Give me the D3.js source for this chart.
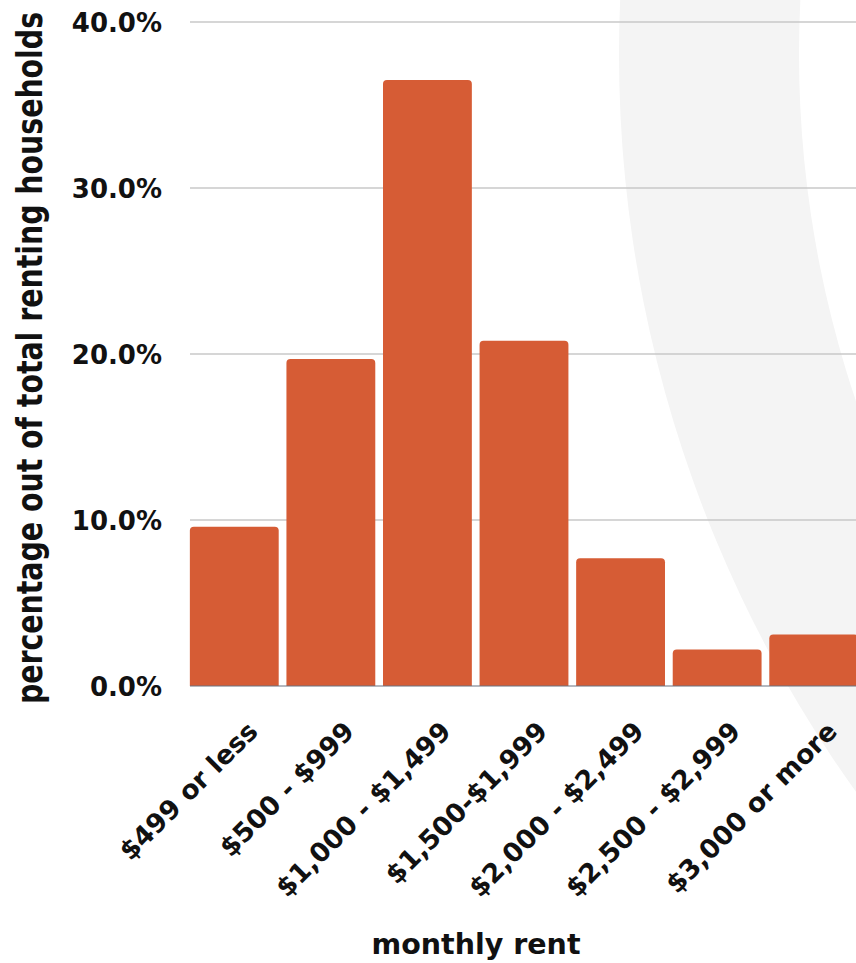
<!DOCTYPE html>
<html>
<head>
<meta charset="utf-8">
<script src="https://cdn.jsdelivr.net/npm/d3@7/dist/d3.min.js"></script>
<style>
  html, body { margin: 0; padding: 0; background: #fff; }
  svg { display: block; }
  text { font-family: "DejaVu Sans", "Open Sans", sans-serif; font-weight: 700; fill: #111; }
</style>
</head>
<body>
<svg id="chart" width="856" height="963"></svg>
<script>
// Share of renting households by monthly rent bracket
const categories = ["$499 or less", "$500 - $999", "$1,000 - $1,499", "$1,500-$1,999",
                    "$2,000 - $2,499", "$2,500 - $2,999", "$3,000 or more"];
const shares = [9.6, 19.7, 36.5, 20.8, 7.7, 2.2, 3.1];
const yTicks = [0, 10, 20, 30, 40];
const yTitle = "percentage out of total renting households";
const xTitle = "monthly rent";

const W = 856, H = 963;
const svg = d3.select("#chart");

// decorative pale arc sweeping through the right side of the background
const deco = d3.arc()
  .innerRadius(1087).outerRadius(1267)
  .startAngle(-Math.PI).endAngle(0);
svg.append("path")
  .attr("transform", "translate(1886,54)")
  .attr("d", deco())
  .attr("fill", "#f4f4f4");

const x = d3.scaleBand()
  .domain(categories)
  .range([186, 862])
  .paddingInner(0.08)
  .paddingOuter(0.04);

const y = d3.scaleLinear().domain([0, 40]).range([686, 22]);

// horizontal gridlines
svg.append("g")
  .selectAll("line")
  .data(yTicks.filter(d => d > 0))
  .join("line")
  .attr("x1", 190).attr("x2", W)
  .attr("y1", d => y(d)).attr("y2", d => y(d))
  .attr("stroke", "#c8c8c8").attr("stroke-width", 1.5);

// y tick labels
const yAxis = d3.axisLeft(y).tickValues(yTicks).tickSize(0).tickPadding(0)
  .tickFormat(d => d.toFixed(1) + "%");
const yg = svg.append("g").attr("transform", "translate(162,0)").call(yAxis);
yg.select(".domain").remove();
yg.selectAll("text")
  .attr("font-size", 26)
  .attr("font-family", "DejaVu Sans")
  .attr("font-weight", 700)
  .attr("fill", "#111")
  .attr("dy", "0.38em");

// bars with rounded tops
const r = 4;
function barPath(d) {
  const x0 = x(d.cat), x1 = x0 + x.bandwidth();
  const y0 = y(0), y1 = y(d.val);
  return `M${x0},${y0}V${y1 + r}Q${x0},${y1} ${x0 + r},${y1}H${x1 - r}Q${x1},${y1} ${x1},${y1 + r}V${y0}Z`;
}
const rows = categories.map((c, i) => ({ cat: c, val: shares[i] }));
svg.append("g")
  .selectAll("path")
  .data(rows)
  .join("path")
  .attr("d", barPath)
  .attr("fill", "#d65c35");

// baseline
svg.append("line")
  .attr("x1", 190).attr("x2", W)
  .attr("y1", y(0)).attr("y2", y(0))
  .attr("stroke", "#6b7280").attr("stroke-width", 1.2);

// x labels, rotated
const xAxis = d3.axisBottom(x).tickSize(0).tickPadding(0);
const xg = svg.append("g").attr("transform", `translate(0,${y(0)})`).call(xAxis);
xg.select(".domain").remove();
xg.selectAll("text")
  .attr("font-size", 26.5)
  .attr("font-family", "DejaVu Sans")
  .attr("font-weight", 700)
  .attr("fill", "#111")
  .attr("text-anchor", "end")
  .attr("dy", null)
  .attr("y", 0)
  .attr("transform", "translate(25,47) rotate(-45)");

// axis titles
svg.append("text")
  .attr("transform", "translate(42,358) rotate(-90) scale(0.8,1)")
  .attr("text-anchor", "middle")
  .attr("font-size", 35.5)
  .text(yTitle);

svg.append("text")
  .attr("x", 476).attr("y", 954)
  .attr("text-anchor", "middle")
  .attr("font-size", 28.5)
  .text(xTitle);
</script>
</body>
</html>
